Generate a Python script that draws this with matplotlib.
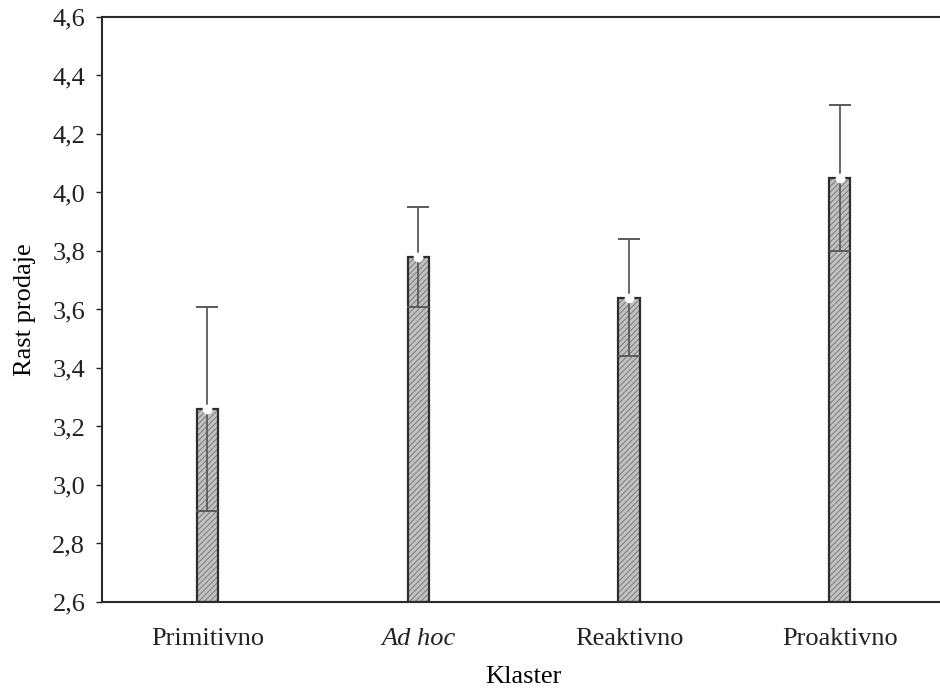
import numpy as np
import matplotlib.pyplot as plt

# Datos
klasteri = ["Primitivno", "Ad hoc", "Reaktivno", "Proaktivno"]
sredina = [3.26, 3.78, 3.64, 4.05]
greska = [0.35, 0.17, 0.20, 0.25]
y_ticks = [2.6, 2.8, 3.0, 3.2, 3.4, 3.6, 3.8, 4.0, 4.2, 4.4, 4.6]

plt.rcParams['font.family'] = ['Liberation Serif', 'DejaVu Serif']
plt.rcParams['hatch.linewidth'] = 0.7

fig = plt.figure(figsize=(9.4, 6.91), dpi=100)
ax = fig.add_axes([0.1085, 0.1288, 0.897, 0.8466])

x = np.arange(1, len(klasteri) + 1)
dno = 2.6
visina = [m - dno for m in sredina]

# Šrafirana ispuna
ax.bar(x, visina, bottom=dno, width=0.1, color='#c2c2c2', edgecolor='#7a7a7a',
       hatch='//////', linewidth=0, zorder=2)
# Tamni obrub
ax.bar(x, visina, bottom=dno, width=0.1, fill=False, edgecolor='#2e2e2e',
       linewidth=1.6, zorder=3)

# Intervali greške
ax.errorbar(x, sredina, yerr=greska, fmt='none', ecolor='#5a5a5a',
            elinewidth=1.3, capsize=8, capthick=1.4, zorder=4)
ax.plot(x, sredina, 'o', color='white', markersize=7, markeredgewidth=0, zorder=5)

ax.set_xlim(0.5, 4.5)
ax.set_ylim(2.6, 4.6)
ax.set_yticks(y_ticks)
ax.set_yticklabels([f"{v:.1f}".replace('.', ',') for v in y_ticks])
ax.set_xticks(x)
ax.set_xticklabels(klasteri)
ax.get_xticklabels()[1].set_style('italic')

ax.tick_params(axis='y', direction='out', length=4, width=1, labelsize=19, pad=8,
               right=True, colors='#222')
ax.tick_params(axis='x', direction='in', length=4, width=1, labelsize=19, pad=19,
               colors='#222')
for s in ax.spines.values():
    s.set_linewidth(1.5)
    s.set_color('#2a2a2a')

ax.set_ylabel("Rast prodaje", fontsize=19, labelpad=12)
ax.set_xlabel("Klaster", fontsize=19, labelpad=11)

fig.savefig("out.png", dpi=100)
